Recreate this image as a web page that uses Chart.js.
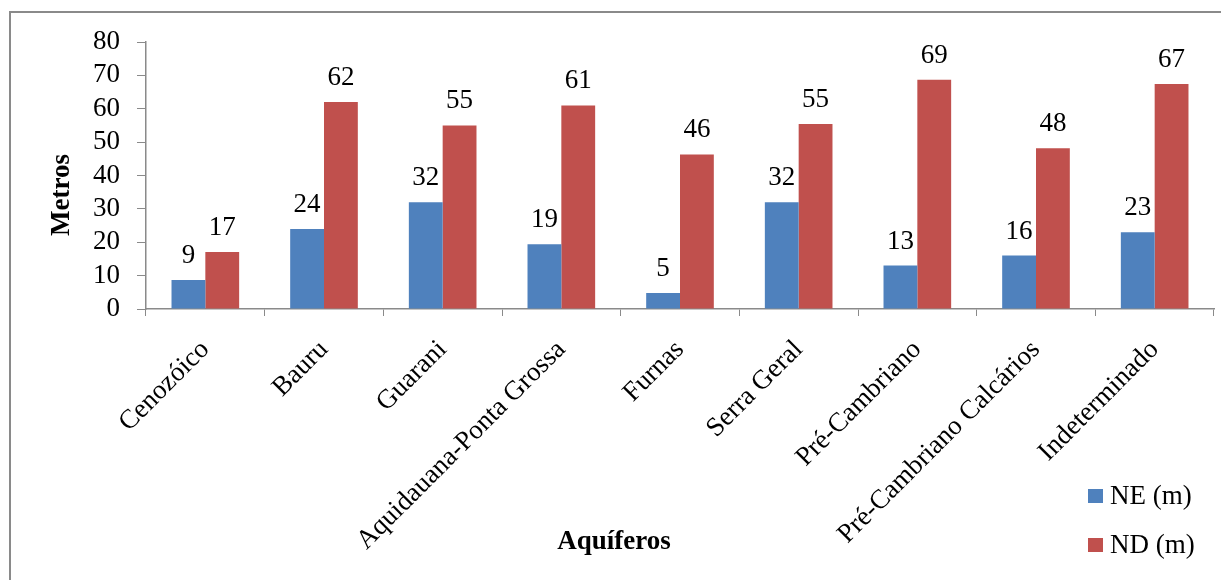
<!DOCTYPE html>
<html>
<head>
<meta charset="utf-8">
<script src="https://cdn.jsdelivr.net/npm/chart.js@4"></script>
<style>
  html, body { margin: 0; padding: 0; background: #fff; }
  #wrap { width: 1221px; height: 580px; position: relative; }
</style>
</head>
<body>
<div id="wrap"><canvas id="chart" width="1221" height="580"></canvas></div>
<script>
// Aquifers on the x axis
const categories = [
  'Cenozóico', 'Bauru', 'Guarani', 'Aquidauana-Ponta Grossa', 'Furnas',
  'Serra Geral', 'Pré-Cambriano', 'Pré-Cambriano Calcários', 'Indeterminado'
];

// Static level (NE) and dynamic level (ND), metres
const neValues = [8.7, 24, 32, 19.4, 4.8, 32, 13, 16, 23];
const ndValues = [17.1, 62, 55, 61, 46.3, 55.4, 68.7, 48.2, 67.4];

const yTicks = [0, 10, 20, 30, 40, 50, 60, 70, 80];

const FONT = "'Liberation Serif', 'Times New Roman', serif";
const GREY = '#8a8a8a';

// value labels above each bar
const valueLabels = {
  id: 'valueLabels',
  afterDatasetsDraw(chart) {
    const ctx = chart.ctx;
    ctx.save();
    ctx.font = '27px ' + FONT;
    ctx.fillStyle = '#000';
    ctx.textAlign = 'center';
    ctx.textBaseline = 'alphabetic';
    chart.data.datasets.forEach((ds, i) => {
      chart.getDatasetMeta(i).data.forEach((bar, j) => {
        ctx.fillText(Math.round(ds.data[j]).toString(), bar.x, bar.y - 17);
      });
    });
    ctx.restore();
  }
};

// frame, axis titles and the legend in the lower right corner
const decorations = {
  id: 'decorations',
  beforeDraw(chart) {
    const ctx = chart.ctx;
    ctx.save();
    ctx.fillStyle = '#fff';
    ctx.fillRect(0, 0, chart.width, chart.height);
    ctx.strokeStyle = GREY;
    ctx.lineWidth = 2;
    ctx.strokeRect(10, 12, 1300, 700);
    ctx.restore();
  },
  afterDraw(chart) {
    const ctx = chart.ctx;
    ctx.save();
    ctx.fillStyle = '#000';
    ctx.font = 'bold 27px ' + FONT;
    ctx.textAlign = 'center';
    ctx.textBaseline = 'middle';
    ctx.fillText('Aquíferos', 614, 542);

    ctx.translate(62, 195);
    ctx.rotate(-Math.PI / 2);
    ctx.fillText('Metros', 0, 0);
    ctx.restore();

    ctx.save();
    ctx.font = '27px ' + FONT;
    ctx.textAlign = 'left';
    ctx.textBaseline = 'middle';
    const rows = [496, 545];
    chart.data.datasets.forEach((ds, i) => {
      ctx.fillStyle = ds.backgroundColor;
      ctx.fillRect(1088, rows[i] - 7, 15, 14);
      ctx.fillStyle = '#000';
      ctx.fillText(ds.label, 1110, rows[i] + 1);
    });
    ctx.restore();
  }
};

function init() {
  const ctx = document.getElementById('chart').getContext('2d');
  new Chart(ctx, {
    type: 'bar',
    data: {
      labels: categories,
      datasets: [
        { label: 'NE (m)', data: neValues, backgroundColor: '#4F81BD',
          categoryPercentage: 0.57, barPercentage: 1.0 },
        { label: 'ND (m)', data: ndValues, backgroundColor: '#C0504D',
          categoryPercentage: 0.57, barPercentage: 1.0 }
      ]
    },
    options: {
      responsive: false,
      animation: false,
      layout: { padding: { top: 42, right: 7, left: 0, bottom: 0 } },
      plugins: {
        legend: { display: false },
        tooltip: { enabled: false }
      },
      scales: {
        x: {
          afterFit: s => { s.height = 271; },
          grid: { drawOnChartArea: false, tickLength: 7, color: GREY, offset: true },
          border: { color: GREY, width: 1.5 },
          ticks: {
            color: '#000',
            font: { family: FONT, size: 27 },
            minRotation: 45,
            maxRotation: 45,
            padding: 18,
            autoSkip: false
          }
        },
        y: {
          min: 0,
          max: 80,
          afterFit: s => { s.width = 146; },
          afterBuildTicks: s => { s.ticks = yTicks.map(v => ({ value: v })); },
          grid: { drawOnChartArea: false, tickLength: 9, color: GREY },
          border: { color: GREY, width: 1.5 },
          ticks: {
            color: '#000',
            font: { family: FONT, size: 27 },
            padding: 17,
            autoSkip: false
          }
        }
      }
    },
    plugins: [decorations, valueLabels]
  });
}

window.onload = init;
</script>
</body>
</html>
